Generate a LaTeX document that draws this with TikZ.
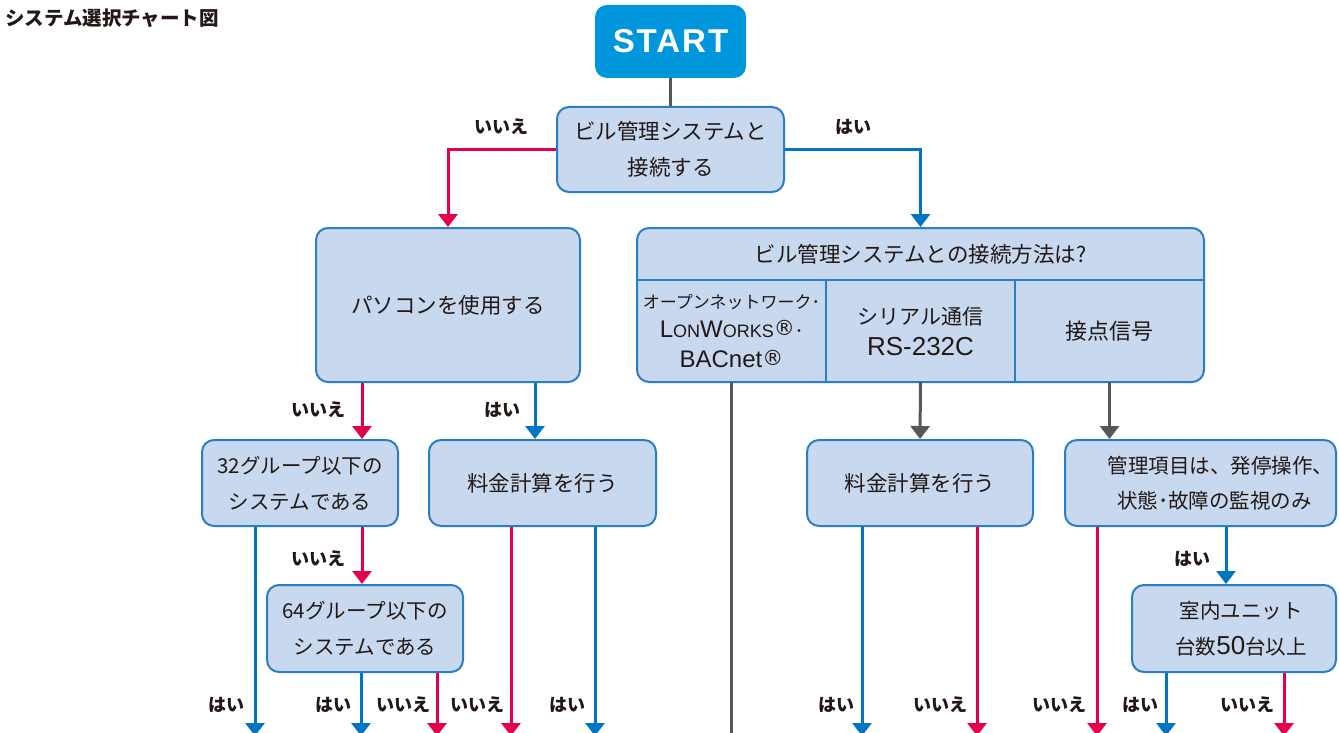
\documentclass[tikz,border=0pt]{standalone}
\usepackage{fontspec}
\setmainfont{Noto Sans CJK JP}
\newfontfamily\startfont[LetterSpace=6]{Liberation Sans}
\newfontfamily\latinfont{Liberation Sans}
\newfontfamily\markfont{DejaVu Sans}
\usepackage{tikz}
\usetikzlibrary{calc, arrows.meta}

\definecolor{boxfill}{HTML}{C7D8EF}
\definecolor{boxline}{HTML}{2A7FC4}
\definecolor{startblue}{HTML}{0096DC}
\definecolor{yesblue}{HTML}{0075C1}
\definecolor{nored}{HTML}{E5004F}
\definecolor{linegray}{HTML}{595757}
\definecolor{inkdark}{HTML}{231815}

\newcommand{\largecap}[1]{{\latinfont\fontsize{24}{24}\selectfont #1}}
\newcommand{\smallcap}[1]{{\latinfont\fontsize{18}{18}\selectfont #1}}
\newcommand{\regmark}{\raisebox{2pt}{\markfont\fontsize{21}{21}\selectfont ®}}
\newcommand{\latintext}[2]{{\latinfont\fontsize{#1}{#1}\selectfont #2}}

\tikzset{
  qbox/.style={draw=boxline, fill=boxfill, line width=2pt, rounded corners=12pt,
    align=center, inner sep=0pt, text=inkdark,
    font=\fontsize{21.5}{36}\selectfont},
  cell/.style={inner sep=0pt, align=center, text=inkdark},
  lbl/.style={inner sep=0pt, text=inkdark, font=\bfseries\fontsize{18}{18}\selectfont},
  tip/.style={-{Triangle[width=19pt,length=13pt]}},
  yesline/.style={draw=yesblue, line width=3pt, tip},
  noline/.style={draw=nored, line width=3pt, tip},
  grayline/.style={draw=linegray, line width=3pt}
}

\begin{document}
\begin{tikzpicture}[x=1pt, y=-1pt]
        % Page frame
        \useasboundingbox (0,0) rectangle (1339,733);
        \clip (0,0) rectangle (1339,733);

        % Title
        \node[inner sep=0pt, anchor=west, text=inkdark, font=\bfseries\fontsize{19.5}{19.5}\selectfont] (title) at (5,18) {システム選択チャート図};

        % Start and first question
        \node[fill=startblue, rounded corners=12pt, minimum width=151pt, minimum height=73pt,
          text=white, font=\startfont\bfseries\fontsize{33}{33}\selectfont] (start) at (670.5,41.5) {START};
        \node[qbox, minimum width=227pt, minimum height=85pt] (bldg) at (670.5,149.5) {ビル管理システムと\\接続する};
        \draw[grayline] (start.south) -- (bldg.north);

        % Second row
        \node[qbox, minimum width=264pt, minimum height=154pt] (pc) at (448,305) {パソコンを使用する};
        \node[qbox, minimum width=567pt, minimum height=154pt] (conn) at (920.5,305) {};
        \node[cell, font=\fontsize{21.5}{36}\selectfont] (connhead) at (920.5,254) {ビル管理システムとの接続方法は?};
        \node[cell, minimum width=189pt, minimum height=102pt, font=\fontsize{17}{29.5}\selectfont] (open) at (731.5,331)
          {オープンネットワーク･\\\largecap{L}\smallcap{ON}\largecap{W}\smallcap{ORKS}\regmark･\\\latintext{24}{BACnet}\regmark};
        \node[cell, minimum width=189pt, minimum height=102pt, font=\fontsize{21}{31}\selectfont] (serial) at (920.5,331) {シリアル通信\\\latintext{26}{RS-232C}};
        \node[cell, minimum width=189pt, minimum height=102pt, font=\fontsize{22}{31}\selectfont] (contact) at (1109.5,331) {接点信号};
        \draw[boxline, line width=2pt] (open.north west) -- (contact.north east);
        \draw[boxline, line width=2pt] (open.north east) -- (open.south east);
        \draw[boxline, line width=2pt] (serial.north east) -- (serial.south east);

        % First answers
        \draw[noline] (bldg.west) -| (pc.north);
        \draw[yesline] (bldg.east) -| (conn.north);
        \node[lbl] (n1) at (501,127) {いいえ};
        \node[lbl] (y1) at (853,127) {はい};

        % Third row
        \node[qbox, minimum width=196pt, minimum height=86pt, font=\fontsize{20.5}{36}\selectfont] (g32) at (300,483) {32グループ以下の\\システムである};
        \node[qbox, minimum width=227pt, minimum height=86pt] (feeL) at (542.5,483) {料金計算を行う};
        \node[qbox, minimum width=226pt, minimum height=86pt] (feeR) at (920,483) {料金計算を行う};
        \node[qbox, minimum width=271pt, minimum height=86pt, font=\fontsize{20.5}{35}\selectfont] (item) at (1200.5,483)
          {\hspace*{40pt}管理項目は、発停操作、\\\hspace*{28pt}状態･故障の監視のみ};

        % Fourth row
        \node[qbox, minimum width=196pt, minimum height=87pt, font=\fontsize{20.5}{36}\selectfont] (g64) at (365,628.5) {64グループ以下の\\システムである};
        \node[qbox, minimum width=204pt, minimum height=87pt, font=\fontsize{20.5}{36}\selectfont] (unit) at (1234,628.5)
          {\hspace*{14pt}室内ユニット\\\hspace*{14pt}台数\latintext{26}{50}台以上};

        % Column positions of the connectors
        \coordinate (bot) at (0,736);
        \coordinate (xa) at (362,0);
        \coordinate (xb) at (535,0);
        \coordinate (xc) at (255,0);
        \coordinate (xd) at (361,0);
        \coordinate (xe) at (437,0);
        \coordinate (xf) at (511,0);
        \coordinate (xg) at (595,0);
        \coordinate (xh) at (862,0);
        \coordinate (xi) at (977,0);
        \coordinate (xj) at (1097,0);
        \coordinate (xk) at (1226,0);
        \coordinate (xl) at (1166,0);
        \coordinate (xm) at (1284,0);

        % Personal computer branch
        \draw[noline] (pc.south -| xa) -- (g32.north -| xa);
        \draw[yesline] (pc.south -| xb) -- (feeL.north -| xb);
        \node[lbl] (n2) at (318,410) {いいえ};
        \node[lbl] (y2) at (502,410) {はい};

        \draw[yesline] (g32.south -| xc) -- (bot -| xc);
        \draw[noline] (g32.south -| xa) -- (g64.north -| xa);
        \node[lbl] (n3) at (318,559) {いいえ};

        \draw[yesline] (g64.south -| xd) -- (bot -| xd);
        \draw[noline] (g64.south -| xe) -- (bot -| xe);
        \draw[noline] (feeL.south -| xf) -- (bot -| xf);
        \draw[yesline] (feeL.south -| xg) -- (bot -| xg);

        % Connection method branch
        \draw[grayline] (open.south) -- (open.south |- bot);
        \draw[grayline, tip] (serial.south) -- (feeR.north);
        \draw[grayline, tip] (contact.south) -- (contact.south |- item.north);

        \draw[yesline] (feeR.south -| xh) -- (bot -| xh);
        \draw[noline] (feeR.south -| xi) -- (bot -| xi);
        \draw[noline] (item.south -| xj) -- (bot -| xj);
        \draw[yesline] (item.south -| xk) -- (unit.north -| xk);
        \node[lbl] (y3) at (1192,559) {はい};
        \draw[yesline] (unit.south -| xl) -- (bot -| xl);
        \draw[noline] (unit.south -| xm) -- (bot -| xm);

        % Bottom answers
        \node[lbl] (y4) at (226,705) {はい};
        \node[lbl] (y5) at (333,705) {はい};
        \node[lbl] (n4) at (403,705) {いいえ};
        \node[lbl] (n5) at (477,705) {いいえ};
        \node[lbl] (y6) at (567,705) {はい};
        \node[lbl] (y7) at (836,705) {はい};
        \node[lbl] (n6) at (940,705) {いいえ};
        \node[lbl] (n7) at (1059,705) {いいえ};
        \node[lbl] (y8) at (1140,705) {はい};
        \node[lbl] (n8) at (1247,705) {いいえ};
    \end{tikzpicture}
\end{document}
